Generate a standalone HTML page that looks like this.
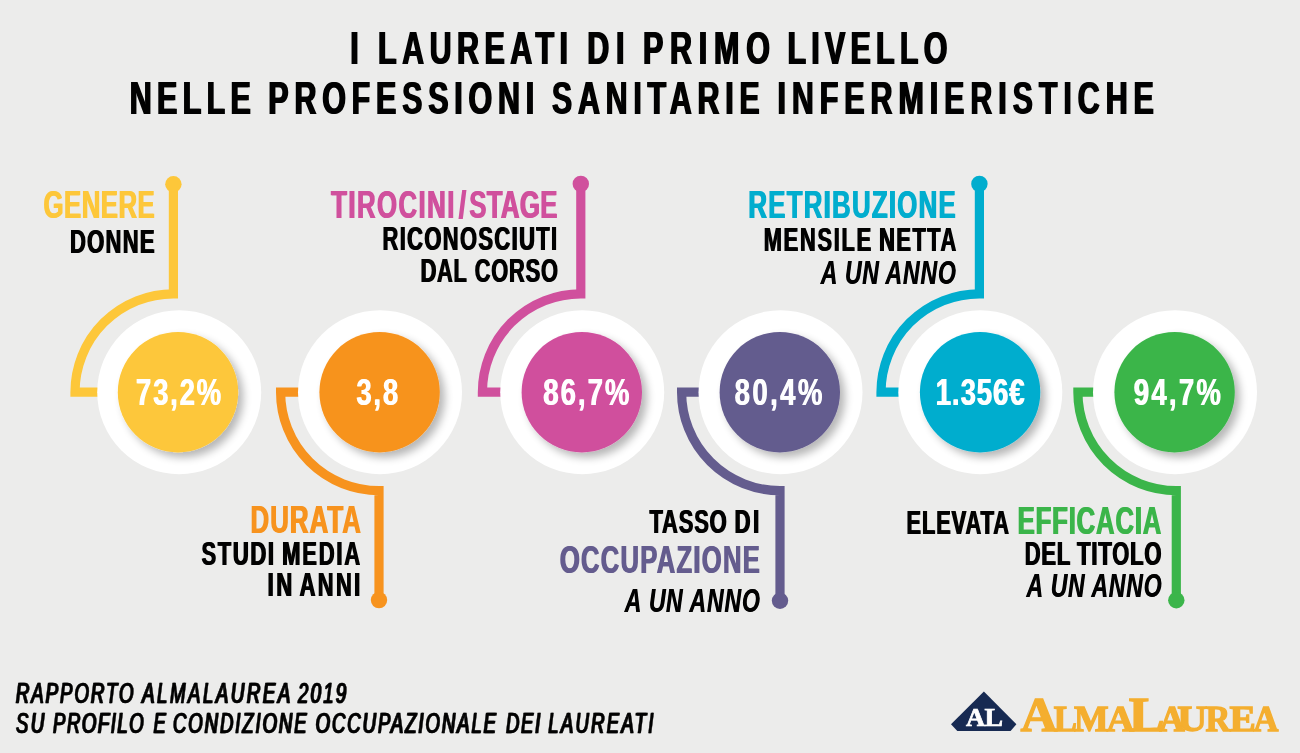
<!DOCTYPE html>
<html><head><meta charset="utf-8"><title>AlmaLaurea</title>
<style>html,body{margin:0;padding:0;background:#ececeb}svg{display:block}text{font-family:"Liberation Sans",sans-serif;white-space:pre}.sf{font-family:"Liberation Serif",serif}</style></head><body>
<svg width="1300" height="753" viewBox="0 0 1300 753">
<defs><filter id="sh" x="-30%" y="-30%" width="170%" height="170%"><feGaussianBlur in="SourceAlpha" stdDeviation="4"/><feOffset dx="4.5" dy="4.5"/><feComponentTransfer><feFuncA type="linear" slope="0.29"/></feComponentTransfer><feMerge><feMergeNode/><feMergeNode in="SourceGraphic"/></feMerge></filter></defs>
<rect width="1300" height="753" fill="#ececeb"/>
<path d="M173.40 184.20 V293.80 A98.40 98.40 0 0 0 75.00 392.20 H98.20" fill="none" stroke="#fdc73a" stroke-width="9.20" stroke-linejoin="miter" stroke-miterlimit="10"/>
<circle cx="173.40" cy="184.20" r="8.2" fill="#fdc73a"/>
<path d="M379.00 600.10 V490.60 A98.40 98.40 0 0 1 280.60 392.20 H299.00" fill="none" stroke="#f7931e" stroke-width="9.20" stroke-linejoin="miter" stroke-miterlimit="10"/>
<circle cx="379.00" cy="600.10" r="8.2" fill="#f7931e"/>
<path d="M580.80 183.90 V293.80 A98.40 98.40 0 0 0 482.40 392.20 H501.20" fill="none" stroke="#d0509d" stroke-width="9.20" stroke-linejoin="miter" stroke-miterlimit="10"/>
<circle cx="580.80" cy="183.90" r="8.2" fill="#d0509d"/>
<path d="M780.00 600.70 V490.60 A98.40 98.40 0 0 1 681.60 392.20 H699.50" fill="none" stroke="#645c8e" stroke-width="9.20" stroke-linejoin="miter" stroke-miterlimit="10"/>
<circle cx="780.00" cy="600.70" r="8.2" fill="#645c8e"/>
<path d="M979.40 183.90 V293.80 A98.40 98.40 0 0 0 881.00 392.20 H899.30" fill="none" stroke="#00adce" stroke-width="9.20" stroke-linejoin="miter" stroke-miterlimit="10"/>
<circle cx="979.40" cy="183.90" r="8.2" fill="#00adce"/>
<path d="M1176.30 600.30 V490.60 A98.40 98.40 0 0 1 1077.90 392.20 H1094.00" fill="none" stroke="#3bb54a" stroke-width="9.20" stroke-linejoin="miter" stroke-miterlimit="10"/>
<circle cx="1176.30" cy="600.30" r="8.2" fill="#3bb54a"/>
<circle cx="179.20" cy="392.20" r="82" fill="#fff"/>
<circle cx="178.00" cy="392.20" r="60.2" fill="#fdc73a" filter="url(#sh)"/>
<circle cx="380.00" cy="392.20" r="82" fill="#fff"/>
<circle cx="379.60" cy="392.20" r="60.2" fill="#f7931e" filter="url(#sh)"/>
<circle cx="582.20" cy="392.20" r="82" fill="#fff"/>
<circle cx="581.80" cy="392.20" r="60.2" fill="#d0509d" filter="url(#sh)"/>
<circle cx="780.50" cy="392.20" r="82" fill="#fff"/>
<circle cx="779.80" cy="392.20" r="60.2" fill="#645c8e" filter="url(#sh)"/>
<circle cx="980.30" cy="392.20" r="82" fill="#fff"/>
<circle cx="980.10" cy="392.20" r="60.2" fill="#00adce" filter="url(#sh)"/>
<circle cx="1175.00" cy="392.20" r="82" fill="#fff"/>
<circle cx="1174.60" cy="392.20" r="60.2" fill="#3bb54a" filter="url(#sh)"/>
<polygon points="983.9,691.4 1016.4,724.3 1010.6,730.9 957.3,730.9 951.0,724.3" fill="#172a52"/>
<g opacity="0.999">
<g id="t1_0"><text transform="translate(349.60 63.50) scale(0.6550 1)" font-size="46.51" font-weight="bold" font-style="normal" letter-spacing="0.000" fill="#000000">I</text><text transform="translate(351.04 63.50) scale(0.6550 1)" font-size="46.51" font-weight="bold" font-style="normal" letter-spacing="0.000" fill="#000000">I</text></g>
<g id="t1_1"><text transform="translate(377.37 63.50) scale(0.6550 1)" font-size="46.51" font-weight="bold" font-style="normal" letter-spacing="8.341" fill="#000000">LAUREATI</text><text transform="translate(378.81 63.50) scale(0.6550 1)" font-size="46.51" font-weight="bold" font-style="normal" letter-spacing="8.341" fill="#000000">LAUREATI</text></g>
<g id="t1_2"><text transform="translate(586.58 63.50) scale(0.6550 1)" font-size="46.51" font-weight="bold" font-style="normal" letter-spacing="10.280" fill="#000000">DI</text><text transform="translate(588.02 63.50) scale(0.6550 1)" font-size="46.51" font-weight="bold" font-style="normal" letter-spacing="10.280" fill="#000000">DI</text></g>
<g id="t1_3"><text transform="translate(642.22 63.50) scale(0.6550 1)" font-size="46.51" font-weight="bold" font-style="normal" letter-spacing="10.340" fill="#000000">PRIMO</text><text transform="translate(643.66 63.50) scale(0.6550 1)" font-size="46.51" font-weight="bold" font-style="normal" letter-spacing="10.340" fill="#000000">PRIMO</text></g>
<g id="t1_4"><text transform="translate(786.80 63.50) scale(0.6550 1)" font-size="46.51" font-weight="bold" font-style="normal" letter-spacing="7.960" fill="#000000">LIVELLO</text><text transform="translate(788.24 63.50) scale(0.6550 1)" font-size="46.51" font-weight="bold" font-style="normal" letter-spacing="7.960" fill="#000000">LIVELLO</text></g>
<g id="t2_0"><text transform="translate(128.99 113.50) scale(0.6550 1)" font-size="46.51" font-weight="bold" font-style="normal" letter-spacing="8.148" fill="#000000">NELLE</text><text transform="translate(130.43 113.50) scale(0.6550 1)" font-size="46.51" font-weight="bold" font-style="normal" letter-spacing="8.148" fill="#000000">NELLE</text></g>
<g id="t2_1"><text transform="translate(267.60 113.50) scale(0.6550 1)" font-size="46.51" font-weight="bold" font-style="normal" letter-spacing="8.829" fill="#000000">PROFESSIONI</text><text transform="translate(269.04 113.50) scale(0.6550 1)" font-size="46.51" font-weight="bold" font-style="normal" letter-spacing="8.829" fill="#000000">PROFESSIONI</text></g>
<g id="t2_2"><text transform="translate(551.13 113.50) scale(0.6550 1)" font-size="46.51" font-weight="bold" font-style="normal" letter-spacing="8.776" fill="#000000">SANITARIE</text><text transform="translate(552.57 113.50) scale(0.6550 1)" font-size="46.51" font-weight="bold" font-style="normal" letter-spacing="8.776" fill="#000000">SANITARIE</text></g>
<g id="t2_3"><text transform="translate(776.80 113.50) scale(0.6550 1)" font-size="46.51" font-weight="bold" font-style="normal" letter-spacing="9.036" fill="#000000">INFERMIERISTICHE</text><text transform="translate(778.24 113.50) scale(0.6550 1)" font-size="46.51" font-weight="bold" font-style="normal" letter-spacing="9.036" fill="#000000">INFERMIERISTICHE</text></g>
<g id="l1"><text transform="translate(42.96 217.70) scale(0.6700 1)" font-size="38.52" font-weight="bold" font-style="normal" letter-spacing="0.698" fill="#fdc73a">GENERE</text><text transform="translate(44.06 217.70) scale(0.6700 1)" font-size="38.52" font-weight="bold" font-style="normal" letter-spacing="0.698" fill="#fdc73a">GENERE</text></g>
<g id="l2"><text transform="translate(69.43 252.60) scale(0.6700 1)" font-size="32.85" font-weight="bold" font-style="normal" letter-spacing="1.893" fill="#000000">DONNE</text><text transform="translate(70.53 252.60) scale(0.6700 1)" font-size="32.85" font-weight="bold" font-style="normal" letter-spacing="1.893" fill="#000000">DONNE</text></g>
<g id="l3_0"><text transform="translate(330.62 217.70) scale(0.6700 1)" font-size="38.52" font-weight="bold" font-style="normal" letter-spacing="2.139" fill="#d0509d">TIROCINI</text><text transform="translate(331.72 217.70) scale(0.6700 1)" font-size="38.52" font-weight="bold" font-style="normal" letter-spacing="2.139" fill="#d0509d">TIROCINI</text></g>
<g id="l3_1"><text transform="translate(458.33 217.70) scale(0.6700 1)" font-size="38.52" font-weight="bold" font-style="normal" letter-spacing="0.000" fill="#d0509d">/</text><text transform="translate(459.43 217.70) scale(0.6700 1)" font-size="38.52" font-weight="bold" font-style="normal" letter-spacing="0.000" fill="#d0509d">/</text></g>
<g id="l3_2"><text transform="translate(468.63 217.70) scale(0.6700 1)" font-size="38.52" font-weight="bold" font-style="normal" letter-spacing="0.522" fill="#d0509d">STAGE</text><text transform="translate(469.73 217.70) scale(0.6700 1)" font-size="38.52" font-weight="bold" font-style="normal" letter-spacing="0.522" fill="#d0509d">STAGE</text></g>
<g id="l4"><text transform="translate(381.92 249.90) scale(0.6700 1)" font-size="32.70" font-weight="bold" font-style="normal" letter-spacing="2.068" fill="#000000">RICONOSCIUTI</text><text transform="translate(383.02 249.90) scale(0.6700 1)" font-size="32.70" font-weight="bold" font-style="normal" letter-spacing="2.068" fill="#000000">RICONOSCIUTI</text></g>
<g id="l5_0"><text transform="translate(420.07 281.70) scale(0.6700 1)" font-size="32.56" font-weight="bold" font-style="normal" letter-spacing="1.051" fill="#000000">DAL</text><text transform="translate(421.17 281.70) scale(0.6700 1)" font-size="32.56" font-weight="bold" font-style="normal" letter-spacing="1.051" fill="#000000">DAL</text></g>
<g id="l5_1"><text transform="translate(474.19 281.70) scale(0.6700 1)" font-size="32.56" font-weight="bold" font-style="normal" letter-spacing="1.207" fill="#000000">CORSO</text><text transform="translate(475.29 281.70) scale(0.6700 1)" font-size="32.56" font-weight="bold" font-style="normal" letter-spacing="1.207" fill="#000000">CORSO</text></g>
<g id="l6"><text transform="translate(747.83 217.70) scale(0.6700 1)" font-size="38.52" font-weight="bold" font-style="normal" letter-spacing="1.880" fill="#00adce">RETRIBUZIONE</text><text transform="translate(748.93 217.70) scale(0.6700 1)" font-size="38.52" font-weight="bold" font-style="normal" letter-spacing="1.880" fill="#00adce">RETRIBUZIONE</text></g>
<g id="l7_0"><text transform="translate(763.20 250.60) scale(0.6700 1)" font-size="32.56" font-weight="bold" font-style="normal" letter-spacing="2.605" fill="#000000">MENSILE</text><text transform="translate(764.30 250.60) scale(0.6700 1)" font-size="32.56" font-weight="bold" font-style="normal" letter-spacing="2.605" fill="#000000">MENSILE</text></g>
<g id="l7_1"><text transform="translate(878.60 250.60) scale(0.6700 1)" font-size="32.56" font-weight="bold" font-style="normal" letter-spacing="2.255" fill="#000000">NETTA</text><text transform="translate(879.70 250.60) scale(0.6700 1)" font-size="32.56" font-weight="bold" font-style="normal" letter-spacing="2.255" fill="#000000">NETTA</text></g>
<g id="l8_0"><text transform="translate(820.54 283.90) scale(0.7100 1)" font-size="32.41" font-weight="bold" font-style="italic" letter-spacing="0.000" fill="#000000">A</text><text transform="translate(821.04 283.90) scale(0.7100 1)" font-size="32.41" font-weight="bold" font-style="italic" letter-spacing="0.000" fill="#000000">A</text></g>
<g id="l8_1"><text transform="translate(844.87 283.90) scale(0.7100 1)" font-size="32.41" font-weight="bold" font-style="italic" letter-spacing="0.635" fill="#000000">UN</text><text transform="translate(845.37 283.90) scale(0.7100 1)" font-size="32.41" font-weight="bold" font-style="italic" letter-spacing="0.635" fill="#000000">UN</text></g>
<g id="l8_2"><text transform="translate(885.33 283.90) scale(0.7100 1)" font-size="32.41" font-weight="bold" font-style="italic" letter-spacing="1.239" fill="#000000">ANNO</text><text transform="translate(885.83 283.90) scale(0.7100 1)" font-size="32.41" font-weight="bold" font-style="italic" letter-spacing="1.239" fill="#000000">ANNO</text></g>
<g id="l9"><text transform="translate(249.97 532.70) scale(0.6700 1)" font-size="38.52" font-weight="bold" font-style="normal" letter-spacing="1.587" fill="#f7931e">DURATA</text><text transform="translate(251.07 532.70) scale(0.6700 1)" font-size="38.52" font-weight="bold" font-style="normal" letter-spacing="1.587" fill="#f7931e">DURATA</text></g>
<g id="l10_0"><text transform="translate(200.96 564.80) scale(0.6700 1)" font-size="32.85" font-weight="bold" font-style="normal" letter-spacing="2.423" fill="#000000">STUDI</text><text transform="translate(202.06 564.80) scale(0.6700 1)" font-size="32.85" font-weight="bold" font-style="normal" letter-spacing="2.423" fill="#000000">STUDI</text></g>
<g id="l10_1"><text transform="translate(281.60 564.80) scale(0.6700 1)" font-size="32.85" font-weight="bold" font-style="normal" letter-spacing="2.641" fill="#000000">MEDIA</text><text transform="translate(282.70 564.80) scale(0.6700 1)" font-size="32.85" font-weight="bold" font-style="normal" letter-spacing="2.641" fill="#000000">MEDIA</text></g>
<g id="l11_0"><text transform="translate(267.07 595.90) scale(0.6700 1)" font-size="32.70" font-weight="bold" font-style="normal" letter-spacing="3.968" fill="#000000">IN</text><text transform="translate(268.17 595.90) scale(0.6700 1)" font-size="32.70" font-weight="bold" font-style="normal" letter-spacing="3.968" fill="#000000">IN</text></g>
<g id="l11_1"><text transform="translate(299.08 595.90) scale(0.6700 1)" font-size="32.70" font-weight="bold" font-style="normal" letter-spacing="3.516" fill="#000000">ANNI</text><text transform="translate(300.18 595.90) scale(0.6700 1)" font-size="32.70" font-weight="bold" font-style="normal" letter-spacing="3.516" fill="#000000">ANNI</text></g>
<g id="l12_0"><text transform="translate(648.90 532.80) scale(0.6700 1)" font-size="32.70" font-weight="bold" font-style="normal" letter-spacing="1.270" fill="#000000">TASSO</text><text transform="translate(650.00 532.80) scale(0.6700 1)" font-size="32.70" font-weight="bold" font-style="normal" letter-spacing="1.270" fill="#000000">TASSO</text></g>
<g id="l12_1"><text transform="translate(734.07 532.80) scale(0.6700 1)" font-size="32.70" font-weight="bold" font-style="normal" letter-spacing="4.021" fill="#000000">DI</text><text transform="translate(735.17 532.80) scale(0.6700 1)" font-size="32.70" font-weight="bold" font-style="normal" letter-spacing="4.021" fill="#000000">DI</text></g>
<g id="l13"><text transform="translate(559.32 572.80) scale(0.6700 1)" font-size="38.23" font-weight="bold" font-style="normal" letter-spacing="1.895" fill="#645c8e">OCCUPAZIONE</text><text transform="translate(560.42 572.80) scale(0.6700 1)" font-size="38.23" font-weight="bold" font-style="normal" letter-spacing="1.895" fill="#645c8e">OCCUPAZIONE</text></g>
<g id="l14_0"><text transform="translate(624.56 612.10) scale(0.7100 1)" font-size="32.41" font-weight="bold" font-style="italic" letter-spacing="0.000" fill="#000000">A</text><text transform="translate(625.06 612.10) scale(0.7100 1)" font-size="32.41" font-weight="bold" font-style="italic" letter-spacing="0.000" fill="#000000">A</text></g>
<g id="l14_1"><text transform="translate(648.66 612.10) scale(0.7100 1)" font-size="32.41" font-weight="bold" font-style="italic" letter-spacing="0.646" fill="#000000">UN</text><text transform="translate(649.16 612.10) scale(0.7100 1)" font-size="32.41" font-weight="bold" font-style="italic" letter-spacing="0.646" fill="#000000">UN</text></g>
<g id="l14_2"><text transform="translate(689.17 612.10) scale(0.7100 1)" font-size="32.41" font-weight="bold" font-style="italic" letter-spacing="1.305" fill="#000000">ANNO</text><text transform="translate(689.67 612.10) scale(0.7100 1)" font-size="32.41" font-weight="bold" font-style="italic" letter-spacing="1.305" fill="#000000">ANNO</text></g>
<g id="l15"><text transform="translate(905.92 533.70) scale(0.6700 1)" font-size="32.56" font-weight="bold" font-style="normal" letter-spacing="1.385" fill="#000000">ELEVATA</text><text transform="translate(907.02 533.70) scale(0.6700 1)" font-size="32.56" font-weight="bold" font-style="normal" letter-spacing="1.385" fill="#000000">ELEVATA</text></g>
<g id="l16"><text transform="translate(1017.12 533.70) scale(0.6700 1)" font-size="38.37" font-weight="bold" font-style="normal" letter-spacing="1.245" fill="#3bb54a">EFFICACIA</text><text transform="translate(1018.22 533.70) scale(0.6700 1)" font-size="38.37" font-weight="bold" font-style="normal" letter-spacing="1.245" fill="#3bb54a">EFFICACIA</text></g>
<g id="l17_0"><text transform="translate(1024.20 564.80) scale(0.6700 1)" font-size="32.70" font-weight="bold" font-style="normal" letter-spacing="1.250" fill="#000000">DEL</text><text transform="translate(1025.30 564.80) scale(0.6700 1)" font-size="32.70" font-weight="bold" font-style="normal" letter-spacing="1.250" fill="#000000">DEL</text></g>
<g id="l17_1"><text transform="translate(1076.59 564.80) scale(0.6700 1)" font-size="32.70" font-weight="bold" font-style="normal" letter-spacing="1.291" fill="#000000">TITOLO</text><text transform="translate(1077.69 564.80) scale(0.6700 1)" font-size="32.70" font-weight="bold" font-style="normal" letter-spacing="1.291" fill="#000000">TITOLO</text></g>
<g id="l18_0"><text transform="translate(1026.14 597.30) scale(0.7100 1)" font-size="32.41" font-weight="bold" font-style="italic" letter-spacing="0.000" fill="#000000">A</text><text transform="translate(1026.64 597.30) scale(0.7100 1)" font-size="32.41" font-weight="bold" font-style="italic" letter-spacing="0.000" fill="#000000">A</text></g>
<g id="l18_1"><text transform="translate(1050.50 597.30) scale(0.7100 1)" font-size="32.41" font-weight="bold" font-style="italic" letter-spacing="0.740" fill="#000000">UN</text><text transform="translate(1051.00 597.30) scale(0.7100 1)" font-size="32.41" font-weight="bold" font-style="italic" letter-spacing="0.740" fill="#000000">UN</text></g>
<g id="l18_2"><text transform="translate(1091.15 597.30) scale(0.7100 1)" font-size="32.41" font-weight="bold" font-style="italic" letter-spacing="1.195" fill="#000000">ANNO</text><text transform="translate(1091.65 597.30) scale(0.7100 1)" font-size="32.41" font-weight="bold" font-style="italic" letter-spacing="1.195" fill="#000000">ANNO</text></g>
<g id="v1"><text transform="translate(135.57 404.80) scale(0.7300 1)" font-size="37.79" font-weight="bold" font-style="normal" letter-spacing="2.389" fill="#ffffff">73,2%</text><text transform="translate(136.37 404.80) scale(0.7300 1)" font-size="37.79" font-weight="bold" font-style="normal" letter-spacing="2.389" fill="#ffffff">73,2%</text></g>
<g id="v2"><text transform="translate(355.90 404.80) scale(0.7300 1)" font-size="37.79" font-weight="bold" font-style="normal" letter-spacing="2.434" fill="#ffffff">3,8</text><text transform="translate(356.70 404.80) scale(0.7300 1)" font-size="37.79" font-weight="bold" font-style="normal" letter-spacing="2.434" fill="#ffffff">3,8</text></g>
<g id="v3"><text transform="translate(542.85 404.80) scale(0.7300 1)" font-size="37.79" font-weight="bold" font-style="normal" letter-spacing="2.709" fill="#ffffff">86,7%</text><text transform="translate(543.65 404.80) scale(0.7300 1)" font-size="37.79" font-weight="bold" font-style="normal" letter-spacing="2.709" fill="#ffffff">86,7%</text></g>
<g id="v4"><text transform="translate(734.15 404.80) scale(0.7300 1)" font-size="37.79" font-weight="bold" font-style="normal" letter-spacing="3.308" fill="#ffffff">80,4%</text><text transform="translate(734.95 404.80) scale(0.7300 1)" font-size="37.79" font-weight="bold" font-style="normal" letter-spacing="3.308" fill="#ffffff">80,4%</text></g>
<g id="v5"><text transform="translate(935.33 404.80) scale(0.7300 1)" font-size="37.79" font-weight="bold" font-style="normal" letter-spacing="1.233" fill="#ffffff">1.356€</text><text transform="translate(936.13 404.80) scale(0.7300 1)" font-size="37.79" font-weight="bold" font-style="normal" letter-spacing="1.233" fill="#ffffff">1.356€</text></g>
<g id="v6"><text transform="translate(1133.37 404.80) scale(0.7300 1)" font-size="37.79" font-weight="bold" font-style="normal" letter-spacing="3.067" fill="#ffffff">94,7%</text><text transform="translate(1134.17 404.80) scale(0.7300 1)" font-size="37.79" font-weight="bold" font-style="normal" letter-spacing="3.067" fill="#ffffff">94,7%</text></g>
<g id="f1_0"><text transform="translate(15.30 702.90) scale(0.6400 1)" font-size="29.07" font-weight="normal" font-style="italic" letter-spacing="3.106" fill="#000000" stroke="#000000" stroke-width="0.60" stroke-linejoin="miter">RAPPORTO</text><text transform="translate(16.40 702.90) scale(0.6400 1)" font-size="29.07" font-weight="normal" font-style="italic" letter-spacing="3.106" fill="#000000" stroke="#000000" stroke-width="0.60" stroke-linejoin="miter">RAPPORTO</text></g>
<g id="f1_1"><text transform="translate(141.54 702.90) scale(0.6400 1)" font-size="29.07" font-weight="normal" font-style="italic" letter-spacing="4.016" fill="#000000" stroke="#000000" stroke-width="0.60" stroke-linejoin="miter">ALMALAUREA</text><text transform="translate(142.64 702.90) scale(0.6400 1)" font-size="29.07" font-weight="normal" font-style="italic" letter-spacing="4.016" fill="#000000" stroke="#000000" stroke-width="0.60" stroke-linejoin="miter">ALMALAUREA</text></g>
<g id="f1_2"><text transform="translate(297.46 702.90) scale(0.6400 1)" font-size="29.07" font-weight="normal" font-style="italic" letter-spacing="3.554" fill="#000000" stroke="#000000" stroke-width="0.60" stroke-linejoin="miter">2019</text><text transform="translate(298.56 702.90) scale(0.6400 1)" font-size="29.07" font-weight="normal" font-style="italic" letter-spacing="3.554" fill="#000000" stroke="#000000" stroke-width="0.60" stroke-linejoin="miter">2019</text></g>
<g id="f2_0"><text transform="translate(15.52 733.00) scale(0.6400 1)" font-size="28.92" font-weight="normal" font-style="italic" letter-spacing="3.793" fill="#000000" stroke="#000000" stroke-width="0.60" stroke-linejoin="miter">SU</text><text transform="translate(16.62 733.00) scale(0.6400 1)" font-size="28.92" font-weight="normal" font-style="italic" letter-spacing="3.793" fill="#000000" stroke="#000000" stroke-width="0.60" stroke-linejoin="miter">SU</text></g>
<g id="f2_1"><text transform="translate(52.51 733.00) scale(0.6400 1)" font-size="28.92" font-weight="normal" font-style="italic" letter-spacing="2.446" fill="#000000" stroke="#000000" stroke-width="0.60" stroke-linejoin="miter">PROFILO</text><text transform="translate(53.61 733.00) scale(0.6400 1)" font-size="28.92" font-weight="normal" font-style="italic" letter-spacing="2.446" fill="#000000" stroke="#000000" stroke-width="0.60" stroke-linejoin="miter">PROFILO</text></g>
<g id="f2_2"><text transform="translate(153.00 733.00) scale(0.6400 1)" font-size="28.92" font-weight="normal" font-style="italic" letter-spacing="0.000" fill="#000000" stroke="#000000" stroke-width="0.60" stroke-linejoin="miter">E</text><text transform="translate(154.10 733.00) scale(0.6400 1)" font-size="28.92" font-weight="normal" font-style="italic" letter-spacing="0.000" fill="#000000" stroke="#000000" stroke-width="0.60" stroke-linejoin="miter">E</text></g>
<g id="f2_3"><text transform="translate(172.47 733.00) scale(0.6400 1)" font-size="28.92" font-weight="normal" font-style="italic" letter-spacing="3.021" fill="#000000" stroke="#000000" stroke-width="0.60" stroke-linejoin="miter">CONDIZIONE</text><text transform="translate(173.57 733.00) scale(0.6400 1)" font-size="28.92" font-weight="normal" font-style="italic" letter-spacing="3.021" fill="#000000" stroke="#000000" stroke-width="0.60" stroke-linejoin="miter">CONDIZIONE</text></g>
<g id="f2_4"><text transform="translate(315.11 733.00) scale(0.6400 1)" font-size="28.92" font-weight="normal" font-style="italic" letter-spacing="3.051" fill="#000000" stroke="#000000" stroke-width="0.60" stroke-linejoin="miter">OCCUPAZIONALE</text><text transform="translate(316.21 733.00) scale(0.6400 1)" font-size="28.92" font-weight="normal" font-style="italic" letter-spacing="3.051" fill="#000000" stroke="#000000" stroke-width="0.60" stroke-linejoin="miter">OCCUPAZIONALE</text></g>
<g id="f2_5"><text transform="translate(505.43 733.00) scale(0.6400 1)" font-size="28.92" font-weight="normal" font-style="italic" letter-spacing="2.662" fill="#000000" stroke="#000000" stroke-width="0.60" stroke-linejoin="miter">DEI</text><text transform="translate(506.53 733.00) scale(0.6400 1)" font-size="28.92" font-weight="normal" font-style="italic" letter-spacing="2.662" fill="#000000" stroke="#000000" stroke-width="0.60" stroke-linejoin="miter">DEI</text></g>
<g id="f2_6"><text transform="translate(547.77 733.00) scale(0.6400 1)" font-size="28.92" font-weight="normal" font-style="italic" letter-spacing="3.552" fill="#000000" stroke="#000000" stroke-width="0.60" stroke-linejoin="miter">LAUREATI</text><text transform="translate(548.87 733.00) scale(0.6400 1)" font-size="28.92" font-weight="normal" font-style="italic" letter-spacing="3.552" fill="#000000" stroke="#000000" stroke-width="0.60" stroke-linejoin="miter">LAUREATI</text></g>
<g id="g0"><text class="sf" transform="translate(1020.43 731.15) scale(1.0369 1)" font-size="49.33" font-weight="bold" font-style="normal" letter-spacing="0.000" fill="#f4ae2f" stroke="#f4ae2f" stroke-width="1.30" stroke-linejoin="miter">A</text></g>
<g id="g1"><text class="sf" transform="translate(1053.77 731.15) scale(0.9522 1)" font-size="36.50" font-weight="bold" font-style="normal" letter-spacing="0.000" fill="#f4ae2f" stroke="#f4ae2f" stroke-width="1.30" stroke-linejoin="miter">L</text></g>
<g id="g2"><text class="sf" transform="translate(1073.94 731.15) scale(1.0059 1)" font-size="36.50" font-weight="bold" font-style="normal" letter-spacing="0.000" fill="#f4ae2f" stroke="#f4ae2f" stroke-width="1.30" stroke-linejoin="miter">M</text></g>
<g id="g3"><text class="sf" transform="translate(1106.41 731.15) scale(1.0503 1)" font-size="36.50" font-weight="bold" font-style="normal" letter-spacing="0.000" fill="#f4ae2f" stroke="#f4ae2f" stroke-width="1.30" stroke-linejoin="miter">A</text></g>
<g id="g4"><text class="sf" transform="translate(1128.75 731.15) scale(1.0907 1)" font-size="49.33" font-weight="bold" font-style="normal" letter-spacing="0.000" fill="#f4ae2f" stroke="#f4ae2f" stroke-width="1.30" stroke-linejoin="miter">L</text></g>
<g id="g5"><text class="sf" transform="translate(1159.28 731.15) scale(0.9676 1)" font-size="36.50" font-weight="bold" font-style="normal" letter-spacing="0.000" fill="#f4ae2f" stroke="#f4ae2f" stroke-width="1.30" stroke-linejoin="miter">A</text></g>
<g id="g6"><text class="sf" transform="translate(1177.19 731.15) scale(1.1365 1)" font-size="36.50" font-weight="bold" font-style="normal" letter-spacing="0.000" fill="#f4ae2f" stroke="#f4ae2f" stroke-width="1.30" stroke-linejoin="miter">U</text></g>
<g id="g7"><text class="sf" transform="translate(1205.50 731.15) scale(0.9426 1)" font-size="36.50" font-weight="bold" font-style="normal" letter-spacing="0.000" fill="#f4ae2f" stroke="#f4ae2f" stroke-width="1.30" stroke-linejoin="miter">R</text></g>
<g id="g8"><text class="sf" transform="translate(1229.60 731.15) scale(1.0797 1)" font-size="36.50" font-weight="bold" font-style="normal" letter-spacing="0.000" fill="#f4ae2f" stroke="#f4ae2f" stroke-width="1.30" stroke-linejoin="miter">E</text></g>
<g id="g9"><text class="sf" transform="translate(1253.57 731.15) scale(0.9457 1)" font-size="36.50" font-weight="bold" font-style="normal" letter-spacing="0.000" fill="#f4ae2f" stroke="#f4ae2f" stroke-width="1.30" stroke-linejoin="miter">A</text></g>
<g id="ga"><text class="sf" transform="translate(965.96 725.85) scale(1.0902 1)" font-size="24.28" font-weight="bold" font-style="normal" letter-spacing="0.000" fill="#ffffff" stroke="#ffffff" stroke-width="0.70" stroke-linejoin="miter">A</text></g>
<g id="gl"><text class="sf" transform="translate(984.44 725.85) scale(1.1402 1)" font-size="24.28" font-weight="bold" font-style="normal" letter-spacing="0.000" fill="#ffffff" stroke="#ffffff" stroke-width="0.70" stroke-linejoin="miter">L</text></g>
</g>

</svg></body></html>
